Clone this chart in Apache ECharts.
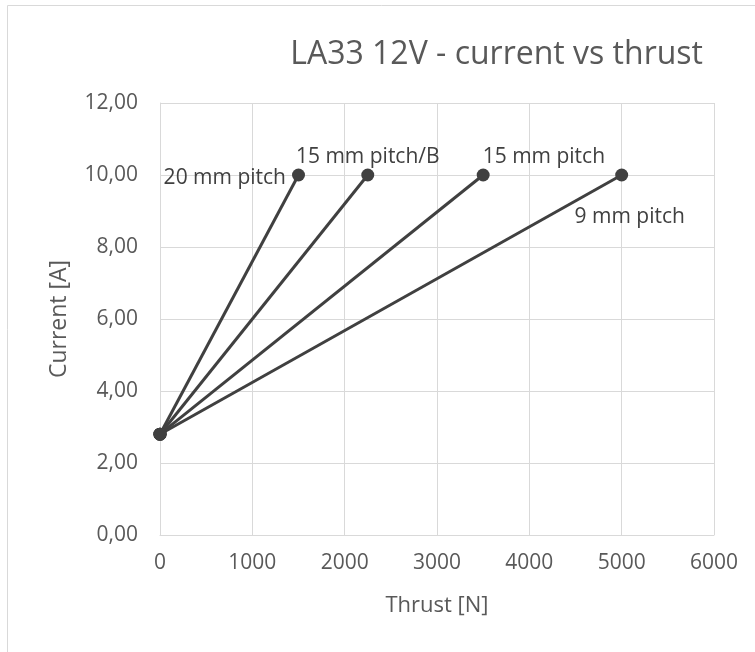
<!DOCTYPE html>
<html><head><meta charset="utf-8">
<script src="https://cdn.jsdelivr.net/npm/echarts@6/dist/echarts.min.js"></script>
<style>html,body{margin:0;padding:0;background:#fff}#c{width:755px;height:652px}</style>
</head><body><div id="c"></div>
<script>
var xTicks = [0, 1000, 2000, 3000, 4000, 5000, 6000];
var yTicks = [0, 2, 4, 6, 8, 10, 12];
var seriesNames = ['20 mm pitch', '15 mm pitch/B', '15 mm pitch', '9 mm pitch'];
var startPoint = [0, 2.8];
var endThrust = [1500, 2250, 3500, 5000];
var endCurrent = [10, 10, 10, 10];

var labelPos = [
  {position: 'left', distance: 6, offset: [0, 3]},
  {position: 'inside', offset: [0, -18]},
  {position: 'right', distance: -7, offset: [0, -18]},
  {position: 'inside', offset: [8, 42]}
];
var FONT = '"Open Sans", sans-serif';
var series = seriesNames.map(function(n, i){
  return {
    name: n, type: 'line',
    data: [
      {value: startPoint},
      {value: [endThrust[i], endCurrent[i]], label: Object.assign({show: true, formatter: n, color: '#404040', fontSize: 21, fontFamily: FONT}, labelPos[i])}
    ],
    symbol: 'circle', symbolSize: 13,
    lineStyle: {color: '#404040', width: 3},
    itemStyle: {color: '#404040'},
    label: {show: false},
    z: 3
  };
});

var chart = echarts.init(document.getElementById('c'));
chart.setOption({
  animation: false,
  title: {text: 'LA33 12V - current vs thrust', right: 47, top: 34,
    textStyle: {fontFamily: FONT, fontSize: 32, fontWeight: 'normal', color: '#595959'}},
  graphic: [{type: 'rect', shape: {x: 7.5, y: 5.5, width: 800, height: 700}, style: {fill: 'none', stroke: '#d9d9d9', lineWidth: 1}, silent: true, z: -1}],
  grid: {left: 160, right: 41, top: 103, bottom: 117},
  xAxis: {type: 'value', min: xTicks[0], max: xTicks[xTicks.length-1], interval: 1000,
    name: 'Thrust [N]', nameLocation: 'middle', nameGap: 60,
    nameTextStyle: {fontFamily: FONT, fontSize: 22, color: '#595959'},
    axisLine: {show: true, lineStyle: {color: '#d9d9d9', width: 1}},
    axisTick: {show: false},
    splitLine: {show: true, lineStyle: {color: '#d9d9d9', width: 1}},
    axisLabel: {margin: 18, fontFamily: FONT, fontSize: 21, color: '#595959',
      formatter: function(v){ return String(v); }}},
  yAxis: {type: 'value', min: yTicks[0], max: yTicks[yTicks.length-1], interval: 2,
    name: 'Current [A]', nameLocation: 'middle', nameGap: 89, nameRotate: 90,
    nameTextStyle: {fontFamily: FONT, fontSize: 23, color: '#595959'},
    axisLine: {show: true, lineStyle: {color: '#d9d9d9', width: 1}},
    axisTick: {show: false},
    splitLine: {show: true, lineStyle: {color: '#d9d9d9', width: 1}},
    axisLabel: {margin: 22, fontFamily: FONT, fontSize: 21, color: '#595959',
      formatter: function(v){ return v.toFixed(2).replace('.', ','); }}},
  series: series
});
</script></body></html>
